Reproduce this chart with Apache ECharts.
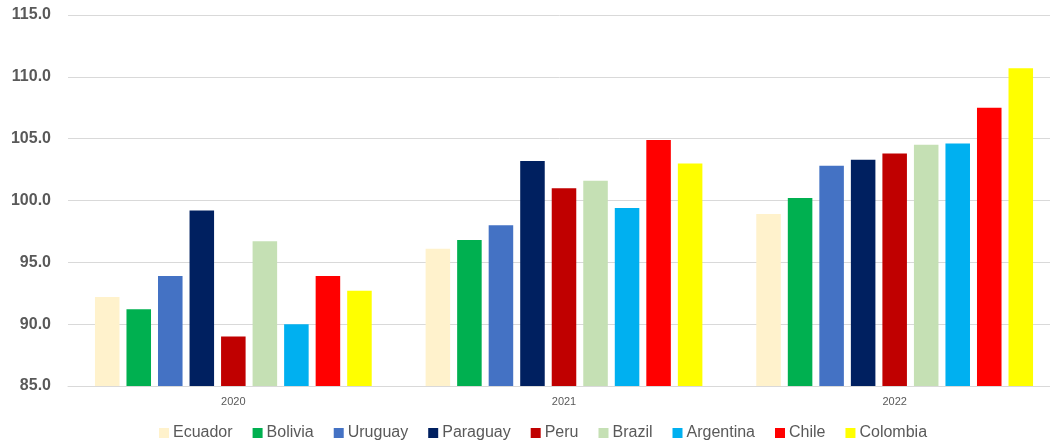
<!DOCTYPE html>
<html>
<head>
<meta charset="utf-8">
<script src="https://cdn.jsdelivr.net/npm/echarts@6/dist/echarts.min.js"></script>
<style>
  html, body { margin: 0; padding: 0; background: #ffffff; }
  #chart { width: 1050px; height: 443px; }
</style>
</head>
<body>
<div id="chart"></div>
<script>
// Years on the category axis
const years = ['2020', '2021', '2022'];

// Index values per country, one entry per year
const ecuador   = [92.2, 96.1, 98.9];
const bolivia   = [91.2, 96.8, 100.2];
const uruguay   = [93.9, 98.0, 102.8];
const paraguay  = [99.2, 103.2, 103.3];
const peru      = [89.0, 101.0, 103.8];
const brazil    = [96.7, 101.6, 104.5];
const argentina = [90.0, 99.4, 104.6];
const chile     = [93.9, 104.9, 107.5];
const colombia  = [92.7, 103.0, 110.7];

// Value axis range
const yMin = 85;
const yMax = 115;
const yStep = 5;

const countries = [
  { name: 'Ecuador',   data: ecuador,   color: '#FFF2CC' },
  { name: 'Bolivia',   data: bolivia,   color: '#00B050' },
  { name: 'Uruguay',   data: uruguay,   color: '#4472C4' },
  { name: 'Paraguay',  data: paraguay,  color: '#002060' },
  { name: 'Peru',      data: peru,      color: '#C00000' },
  { name: 'Brazil',    data: brazil,    color: '#C5E0B4' },
  { name: 'Argentina', data: argentina, color: '#00B0F0' },
  { name: 'Chile',     data: chile,     color: '#FF0000' },
  { name: 'Colombia',  data: colombia,  color: '#FFFF00' }
];

const chart = echarts.init(document.getElementById('chart'), null, { renderer: 'canvas' });

chart.setOption({
  animation: false,
  backgroundColor: '#ffffff',
  textStyle: { fontFamily: '"Liberation Sans", Arial, sans-serif' },
  grid: {
    left: 68, top: 15, width: 992, height: 371,
    containLabel: false,
    outerBoundsMode: 'none'
  },
  legend: {
    left: 154,
    top: 420,
    itemWidth: 10,
    itemHeight: 10,
    itemGap: 20,
    icon: 'rect',
    textStyle: { color: '#595959', fontSize: 16, padding: [0, 0, 0, -1] },
    data: countries.map(c => c.name)
  },
  xAxis: {
    type: 'category',
    data: years,
    axisLine: { show: true, lineStyle: { color: '#d9d9d9', width: 1 } },
    axisTick: { show: false },
    axisLabel: { color: '#595959', fontSize: 11, margin: 10 }
  },
  yAxis: {
    type: 'value',
    min: yMin,
    max: yMax,
    interval: yStep,
    axisLine: { show: false },
    axisTick: { show: false },
    splitLine: { lineStyle: { color: '#d9d9d9', width: 1 } },
    axisLabel: {
      color: '#595959',
      fontSize: 16,
      fontWeight: 'bold',
      margin: 17,
      formatter: v => v.toFixed(1)
    }
  },
  series: countries.map(c => ({
    name: c.name,
    type: 'bar',
    data: c.data,
    barGap: '28.5%',
    barCategoryGap: '16.3%',
    itemStyle: { color: c.color }
  }))
});
</script>
</body>
</html>
